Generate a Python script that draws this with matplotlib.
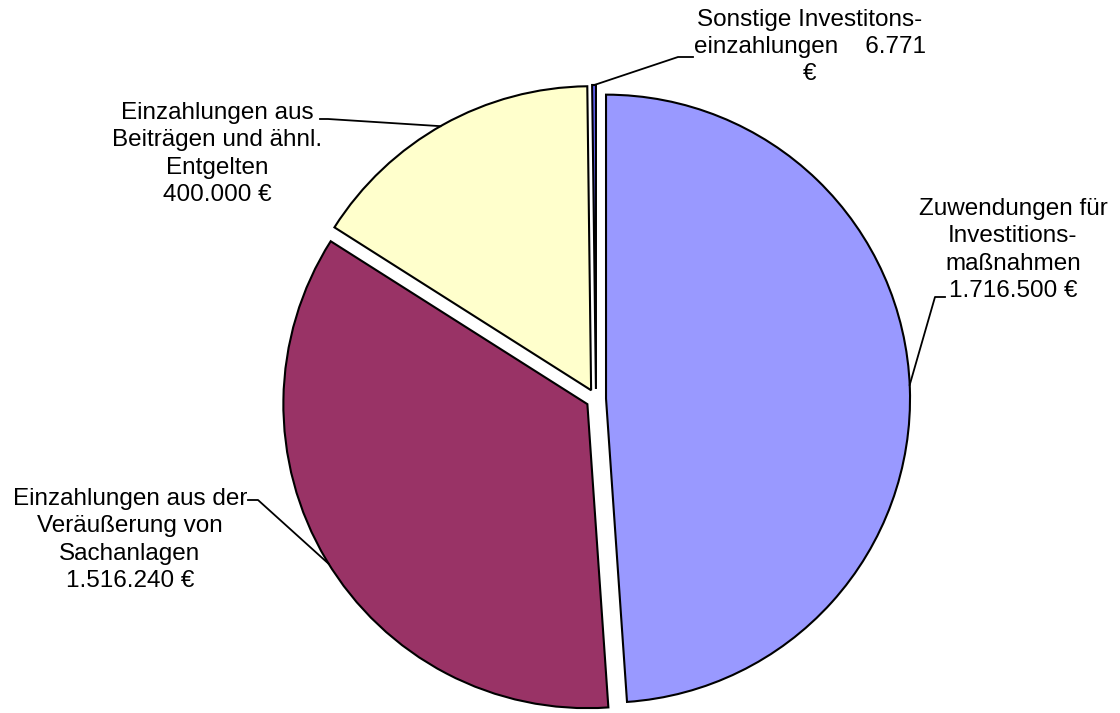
import numpy as np
import matplotlib.pyplot as plt

plt.rcParams['font.family'] = ['Liberation Sans', 'DejaVu Sans']

# data
labels = ['Zuwendungen für\nInvestitions-\nmaßnahmen\n1.716.500 €',
          'Einzahlungen aus der\nVeräußerung von\nSachanlagen\n1.516.240 €',
          'Einzahlungen aus\nBeiträgen und ähnl.\nEntgelten\n400.000 €',
          'Sonstige Investitons-\neinzahlungen    6.771\n€']
# slice shares as drawn in the chart (percent)
shares = [48.9, 35.1, 15.8, 0.2]
colors = ['#9999FF', '#993366', '#FFFFCC', '#6666FF']

# layout (pixels)
W, H = 1120, 713
CX, CY, R = 596, 399, 304


def px(x, y):
    # pixel coords -> data coords (radius = 1)
    return (x - CX) / R, (CY - y) / R


fig = plt.figure(figsize=(W / 100, H / 100), dpi=100)
ax = fig.add_axes([0, 0, 1, 1])

wedges, _ = ax.pie(shares, colors=colors, startangle=90, counterclock=False,
                   explode=[0.033] * 4, radius=1, center=(0, 0),
                   wedgeprops=dict(edgecolor='black', linewidth=1.5))

x0, y0 = px(0, H)
x1, y1 = px(W, 0)
ax.set_xlim(x0, x1)
ax.set_ylim(y0, y1)
ax.axis('off')

# label text centres, leader stubs and anchor angle on each arc
text_pos = [(1013, 250), (130, 540), (217, 154), (810, 47)]
stubs = [((945, 297), (935, 297)),
         ((248, 500), (258, 500)),
         ((320, 119), (328, 119)),
         ((693, 57), (678, 57))]
anchor_deg = [2.6, 211.7, 119.7, 90.3]

for w, lab, tp, st, a in zip(wedges, labels, text_pos, stubs, anchor_deg):
    tx, ty = px(*tp)
    ax.text(tx, ty, lab, ha='center', va='center', multialignment='center',
            fontsize=17.5, linespacing=1.3)
    cx, cy = w.center
    ex = cx + w.r * np.cos(np.radians(a))
    ey = cy + w.r * np.sin(np.radians(a))
    p1 = px(*st[0])
    p2 = px(*st[1])
    ax.plot([p1[0], p2[0], ex], [p1[1], p2[1], ey], color='black', lw=1.3)

fig.savefig('out.png', dpi=100)
